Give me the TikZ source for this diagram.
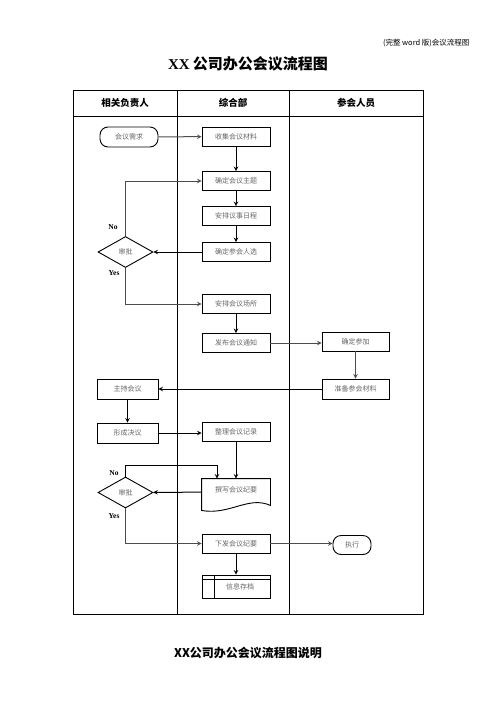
\documentclass[tikz,border=0pt]{standalone}
\usepackage{fontspec}
\newfontfamily\cjk{Noto Sans CJK SC}
\newfontfamily\latinserif{Liberation Serif}
\usetikzlibrary{calc,arrows,shapes.geometric,positioning}

\begin{document}
\begin{tikzpicture}[x=1pt,y=-1pt]

\tikzset{proc/.style={draw=black,line width=0.9pt,fill=white,inner sep=0pt,minimum width=68pt,minimum height=19pt,shape=rectangle,text=black!60,font=\cjk\fontsize{7}{8}\selectfont},
term/.style={proc,rounded corners=8pt},
decision/.style={draw=black,line width=0.9pt,fill=white,inner sep=0pt,minimum width=55pt,minimum height=31pt,shape=diamond,text=black!60,font=\cjk\fontsize{7}{8}\selectfont},
lane/.style={font=\cjk\bfseries\fontsize{9.5}{11}\selectfont},
answer/.style={font=\latinserif\bfseries\fontsize{7.5}{8}\selectfont},
flow/.style={->,>=stealth,line width=1pt,draw=black!70},
darkflow/.style={flow,draw=black}}

\useasboundingbox (0,0) rectangle (496,702);

% Titles
\node (doctag) [anchor=east,font=\cjk\fontsize{7.5}{9}\selectfont] at (473,43) {(完整 word 版)会议流程图};
\node (title) at (248,64) {{\latinserif\bfseries\fontsize{15}{17}\selectfont XX} {\cjk\bfseries\fontsize{15}{17}\selectfont 公司办公会议流程图}};
\node (note) [font=\cjk\bfseries\fontsize{12}{14}\selectfont] at (248,653) {XX公司办公会议流程图说明};

% Swimlane table
\draw [line width=0.9pt] (73,90) rectangle (423,614);
\draw [line width=0.9pt] (73,116) -- (423,116);
\draw [line width=0.9pt] (177,90) -- (177,614);
\draw [line width=0.9pt] (289,90) -- (289,614);
\node (lane1) [lane] at (125,103) {相关负责人};
\node (lane2) [lane] at (233,103) {综合部};
\node (lane3) [lane] at (356,103) {参会人员};

% Left lane
\node (req) [term,minimum width=58pt,minimum height=20pt] at (129,137) {会议需求};
\node (appr1) [decision] at (125.5,252) {审批};
\node (host) [proc,minimum width=61pt,minimum height=20pt] at (127.5,389) {主持会议};
\node (resol) [proc,minimum width=61pt,minimum height=20pt] at (127.5,433) {形成决议};
\node (appr2) [decision] at (125.5,492.5) {审批};
\node (no1) [answer] at (113,227) {No};
\node (yes1) [answer] at (114,273) {Yes};
\node (no2) [answer] at (114,473) {No};
\node (yes2) [answer] at (114,516) {Yes};

% Middle lane
\node (collect) [proc] at (236,136.5) {收集会议材料};
\node (topic) [proc] at (236,181) {确定会议主题};
\node (agenda) [proc] at (236,216) {安排议事日程};
\node (people) [proc] at (236,252) {确定参会人选};
\node (venue) [proc] at (236,304) {安排会议场所};
\node (notice) [proc] at (236,343) {发布会议通知};
\node (record) [proc] at (236,432) {整理会议记录};
\node (minutes) [proc,draw=none,fill=none,minimum height=26pt] at (236,492) {\raisebox{5pt}{撰写会议纪要}};
\node (issue) [proc] at (236,543.5) {下发会议纪要};
\node (archive) [proc,minimum height=23pt] at (236,586.5) {\hspace*{8pt}信息存档};

% Right lane
\node (confirm) [proc,minimum width=67pt] at (355.5,341.5) {确定参加};
\node (prep) [proc,minimum width=67pt,minimum height=20pt] at (355.5,389) {准备参会材料};
\node (exec) [term,minimum width=38pt] at (352,545) {执行};

% Document and storage outlines
\draw [line width=0.9pt] (minutes.north west) -- (minutes.north east) -- ([yshift=-0pt]minutes.south east)
  .. controls ($(minutes.south east)+(-22,-10)$) and ($(minutes.south west)+(28,10)$) .. ([yshift=-5pt]minutes.south west) -- cycle;
\draw [line width=0.9pt] ([yshift=-5pt]archive.north west) -- ([yshift=-5pt]archive.north east);
\draw [line width=0.9pt] ([xshift=13pt]archive.north west) -- ([xshift=13pt]archive.south west);

% Connectors
\draw [flow] (req) -- (collect);
\draw [darkflow] (collect) -- (topic);
\draw [darkflow] (topic) -- (agenda);
\draw [darkflow] (agenda) -- (people);
\draw [darkflow] (people) -- (appr1);
\draw [flow] (appr1.north) |- (topic.west);
\draw [flow] (appr1.south) |- (venue.west);
\draw [darkflow] (venue) -- (notice);
\draw [flow] (notice.east) -- (notice.east -| confirm.west);
\draw [flow] (confirm) -- (prep);
\draw [darkflow] (prep) -- (host);
\draw [darkflow] (host) -- (resol);
\draw [darkflow] (resol) -- (resol.east -| record.west);
\draw [darkflow] (record) -- (minutes);
\draw [darkflow] (minutes) -- (appr2);
\draw [darkflow] (appr2.north) -- ++(0,-11) -| ([xshift=-19pt]minutes.north);
\draw [flow] (appr2.south) |- (issue.west);
\draw [flow] (issue.east) -- (issue.east -| exec.west);
\draw [darkflow] (issue) -- (archive);

\end{tikzpicture}
\end{document}
